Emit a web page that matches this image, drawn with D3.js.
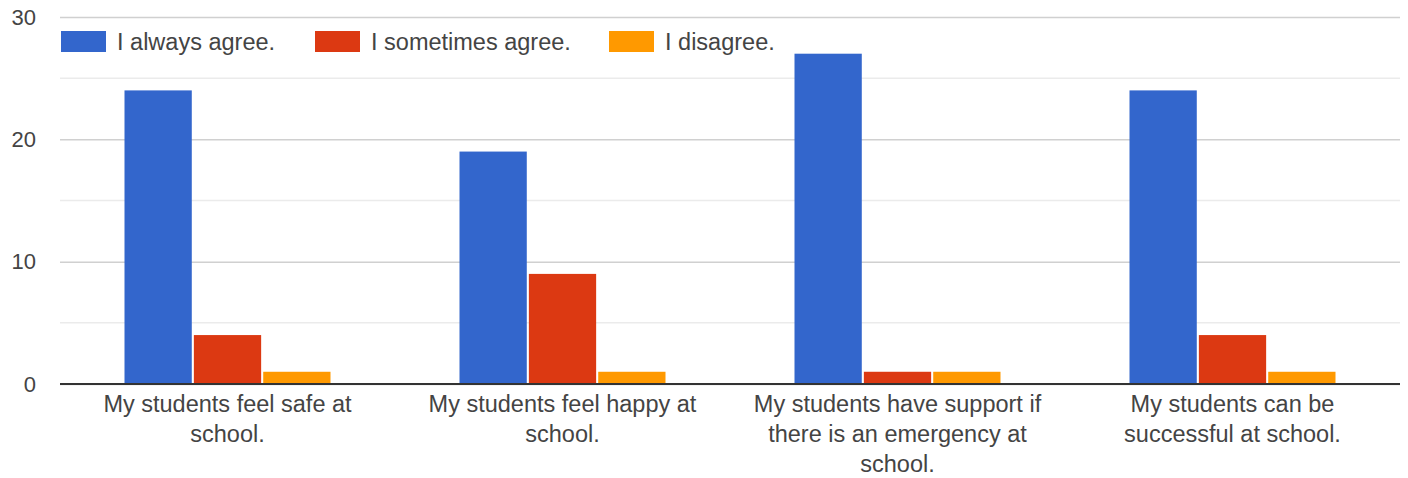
<!DOCTYPE html>
<html>
<head>
<meta charset="utf-8">
<script src="https://cdn.jsdelivr.net/npm/d3@7"></script>
<style>
  body { margin: 0; background: #fff; }
  text { font-family: Arial, "Liberation Sans", sans-serif; fill: #444; }
</style>
</head>
<body>
<div id="chart"></div>
<script>
// data
var categories = [
  "My students feel safe at school.",
  "My students feel happy at school.",
  "My students have support if there is an emergency at school.",
  "My students can be successful at school."
];
var seriesNames = ["I always agree.", "I sometimes agree.", "I disagree."];
var alwaysAgree = [24, 19, 27, 24];
var sometimesAgree = [4, 9, 1, 4];
var disagree = [1, 1, 1, 1];
var yTicks = [0, 10, 20, 30];
var colors = ["#3366cc", "#dc3912", "#ff9900"];

var svgWidth = 1408;
var svgHeight = 478;
var margin = { top: 17, right: 8, bottom: 94, left: 60 };
var width = svgWidth - margin.left - margin.right;
var height = svgHeight - margin.top - margin.bottom;

var svg = d3.select("#chart")
  .append("svg")
  .attr("width", svgWidth)
  .attr("height", svgHeight);

var chartGroup = svg.append("g")
  .attr("transform", `translate(${margin.left}, ${margin.top})`);

var rows = categories.map(function(c, i) {
  return { cat: c, values: [alwaysAgree[i], sometimesAgree[i], disagree[i]] };
});

var x0 = d3.scaleBand().domain(categories).range([0, width]).paddingInner(0).paddingOuter(0);
var x1 = d3.scaleBand().domain(d3.range(seriesNames.length))
  .range([x0.bandwidth() / 2 - 103, x0.bandwidth() / 2 + 103]).paddingInner(0.03);
var y = d3.scaleLinear().domain([0, 30]).range([height, 0]);

// minor gridlines
chartGroup.append("g")
  .selectAll("line")
  .data([5, 15, 25])
  .enter()
  .append("line")
  .attr("x1", 0).attr("x2", width)
  .attr("y1", d => y(d)).attr("y2", d => y(d))
  .attr("stroke", "#ebebeb").attr("stroke-width", 1.5);

// major gridlines + tick labels
var leftAxis = d3.axisLeft(y).tickValues(yTicks).tickSize(-width).tickPadding(24);
var yAxis = chartGroup.append("g").call(leftAxis);
yAxis.select(".domain").remove();
yAxis.selectAll(".tick line").attr("stroke", "#d0d0d0").attr("stroke-width", 1.5);
yAxis.selectAll(".tick text")
  .attr("font-size", 22)
  .attr("fill", "#444")
  .style("font-family", "Arial, 'Liberation Sans', sans-serif");

// bars
var groups = chartGroup.selectAll(".cat")
  .data(rows)
  .enter()
  .append("g")
  .attr("transform", d => `translate(${x0(d.cat)}, 0)`);

groups.selectAll("rect")
  .data(d => d.values)
  .enter()
  .append("rect")
  .attr("x", (d, i) => x1(i))
  .attr("width", x1.bandwidth())
  .attr("y", d => y(d))
  .attr("height", d => height - y(d))
  .attr("fill", (d, i) => colors[i]);

// baseline
chartGroup.append("line")
  .attr("x1", 0).attr("x2", width)
  .attr("y1", height).attr("y2", height)
  .attr("stroke", "#333").attr("stroke-width", 2);

// category labels, wrapped
var labels = chartGroup.append("g")
  .selectAll("text")
  .data(categories)
  .enter()
  .append("text")
  .attr("x", d => x0(d) + x0.bandwidth() / 2)
  .attr("y", height + 28)
  .attr("text-anchor", "middle")
  .attr("font-size", 23.5)
  .attr("fill", "#444");

labels.each(function(d) {
  var t = d3.select(this);
  var words = d.split(" ");
  var line = [];
  var tspan = t.append("tspan").attr("x", t.attr("x")).attr("dy", 0);
  words.forEach(function(w) {
    line.push(w);
    tspan.text(line.join(" "));
    if (tspan.node().getComputedTextLength() > 290 && line.length > 1) {
      line.pop();
      tspan.text(line.join(" "));
      line = [w];
      tspan = t.append("tspan").attr("x", t.attr("x")).attr("dy", 30).text(w);
    }
  });
});

// legend
var legend = svg.append("g").attr("transform", "translate(61, 31)");
var legendX = [0, 254, 548];
seriesNames.forEach(function(s, i) {
  var g = legend.append("g").attr("transform", `translate(${legendX[i]}, 0)`);
  g.append("rect")
    .attr("width", 45).attr("height", 21)
    .attr("fill", colors[i]);
  g.append("text")
    .attr("x", 56).attr("y", 19)
    .attr("font-size", 23.5)
    .attr("fill", "#444")
    .text(s);
});
</script>
</body>
</html>
